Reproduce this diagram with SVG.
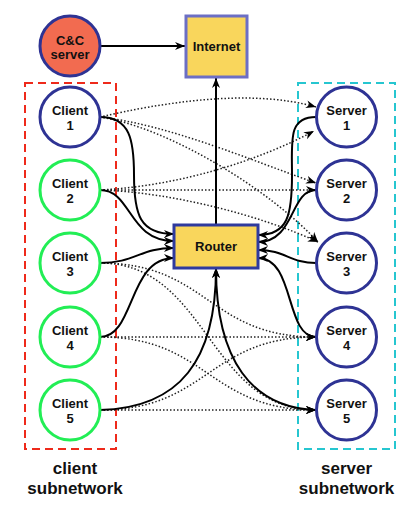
<svg xmlns="http://www.w3.org/2000/svg" width="418" height="512" viewBox="0 0 418 512">
<style>
.txt{font-family:"Liberation Sans",Arial,sans-serif;font-weight:bold;font-size:13px;fill:#111;text-anchor:middle}
.lbl{font-family:"Liberation Sans",Arial,sans-serif;font-weight:bold;font-size:17px;fill:#111;text-anchor:middle}
.cl{fill:#fff;stroke-width:3}
.blue{stroke:#2e3394}
.green{stroke:#22ee55}
.solid{fill:none;stroke:#000;stroke-width:2;marker-end:url(#arr)}
.dot{fill:none;stroke:#222;stroke-width:1.5;stroke-dasharray:1.5 2;marker-end:url(#arr)}
.box{fill:#f9d65c;stroke-width:3}
</style>
<defs>
<marker id="arr" markerUnits="userSpaceOnUse" markerWidth="11" markerHeight="9" refX="10" refY="4" orient="auto">
<path d="M0,0 L10,4 L0,8 L3,4 z" fill="#000"/>
</marker>
</defs>
<g id="subnets" fill="none" stroke-width="2" stroke-dasharray="8 5">
<rect x="25" y="83" width="91" height="366" stroke="#ee2a1b"/>
<rect x="298" y="83" width="97" height="366" stroke="#26c6d0"/>
</g>
<g id="connectors">
<path class="dot" d="M100,117 C160,103 250,88 316,107"/>
<path class="dot" d="M100,117 C170,125 250,160 316,183"/>
<path class="dot" d="M100,117 C170,128 270,190 318,242"/>
<path class="dot" d="M100,190 C180,186 260,160 314,131"/>
<path class="dot" d="M100,190 L316,190"/>
<path class="dot" d="M100,190 C170,192 260,215 318,242"/>
<path class="dot" d="M100,263 C208,263 208,337 316,337"/>
<path class="dot" d="M100,263 C208,263 208,410 316,410"/>
<path class="dot" d="M100,337 L316,337"/>
<path class="dot" d="M100,337 C208,337 208,410 316,410"/>
<path class="dot" d="M100,410 C208,410 208,337 316,337"/>
<path class="dot" d="M100,410 L316,410"/>
<path class="solid" d="M100,117 C130,117 134,140 134,175 C134,215 140,234 174,234"/>
<path class="solid" d="M100,190 C132,190 128,241 174,241"/>
<path class="solid" d="M100,263 C135,263 140,248 174,248"/>
<path class="solid" d="M100,337 C135,337 128,258 174,258"/>
<path class="solid" d="M100,410 C180,408 216,360 216,268"/>
<path class="solid" d="M316,117 C288,117 292,140 292,175 C292,215 288,235 258,235"/>
<path class="solid" d="M316,190 C290,190 295,242 258,242"/>
<path class="solid" d="M316,263 C290,263 285,250 258,250"/>
<path class="solid" d="M316,337 C285,337 295,258 258,258"/>
<path class="solid" d="M316,410 C252,408 216,360 216,268"/>
<path class="solid" d="M216,225 L216,78"/>
<path class="solid" d="M100,46 L185,46"/>
</g>
<g id="cc"><circle cx="70" cy="46" r="30" fill="#f26b50" stroke="#2e3394" stroke-width="3"/><text class="txt" x="70" y="45">C&amp;C</text><text class="txt" x="70" y="59">server</text></g>
<g id="internet"><rect class="box" x="186" y="16" width="61" height="61" stroke="#6c6fc5"/><text class="txt" x="216.5" y="51">Internet</text></g>
<g id="router"><rect class="box" x="174" y="225" width="84" height="43" stroke="#2f3a9e"/><text class="txt" x="216" y="251">Router</text></g>
<g id="client1"><circle class="cl blue" cx="70" cy="117" r="30"/><text class="txt" x="70" y="115">Client</text><text class="txt" x="70" y="130">1</text></g>
<g id="client2"><circle class="cl green" cx="70" cy="190" r="30"/><text class="txt" x="70" y="188">Client</text><text class="txt" x="70" y="203">2</text></g>
<g id="client3"><circle class="cl green" cx="70" cy="263" r="30"/><text class="txt" x="70" y="261">Client</text><text class="txt" x="70" y="276">3</text></g>
<g id="client4"><circle class="cl green" cx="70" cy="337" r="30"/><text class="txt" x="70" y="335">Client</text><text class="txt" x="70" y="350">4</text></g>
<g id="client5"><circle class="cl green" cx="70" cy="410" r="30"/><text class="txt" x="70" y="408">Client</text><text class="txt" x="70" y="423">5</text></g>
<g id="server1"><circle class="cl blue" cx="346.5" cy="117" r="30"/><text class="txt" x="346.5" y="115">Server</text><text class="txt" x="346.5" y="130">1</text></g>
<g id="server2"><circle class="cl blue" cx="346.5" cy="190" r="30"/><text class="txt" x="346.5" y="188">Server</text><text class="txt" x="346.5" y="203">2</text></g>
<g id="server3"><circle class="cl blue" cx="346.5" cy="263" r="30"/><text class="txt" x="346.5" y="261">Server</text><text class="txt" x="346.5" y="276">3</text></g>
<g id="server4"><circle class="cl blue" cx="346.5" cy="337" r="30"/><text class="txt" x="346.5" y="335">Server</text><text class="txt" x="346.5" y="350">4</text></g>
<g id="server5"><circle class="cl blue" cx="346.5" cy="410" r="30"/><text class="txt" x="346.5" y="408">Server</text><text class="txt" x="346.5" y="423">5</text></g>
<g id="labels">
<text class="lbl" x="75" y="474">client</text><text class="lbl" x="75" y="494">subnetwork</text>
<text class="lbl" x="346.5" y="474">server</text><text class="lbl" x="346.5" y="494">subnetwork</text>
</g>
</svg>
